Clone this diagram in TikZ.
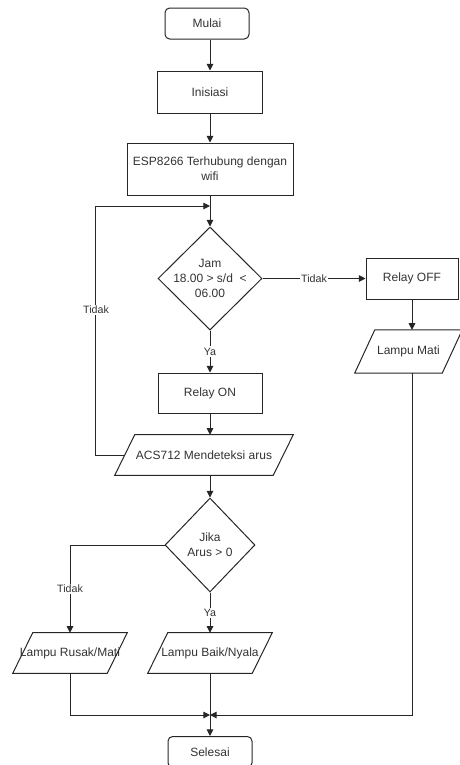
\documentclass[tikz,border=0pt]{standalone}
\usepackage{fontspec}
\setmainfont{Liberation Sans}
\usetikzlibrary{shapes.geometric,arrows.meta}
\tikzset{
  every node/.style={font=\fontsize{9}{11.25}\selectfont, text=black!80},
  base/.style={draw=black!85, line width=0.75pt, inner sep=1pt, align=center},
  term/.style={base, rectangle, rounded corners=3.5pt, minimum width=63pt, minimum height=23.25pt},
  proc/.style={base, rectangle},
  dec/.style={base, diamond, inner sep=0pt},
  io/.style={rectangle, inner sep=0pt, align=center},
  conn/.style={draw=black!85, line width=0.75pt},
  arr/.style={conn, -{Triangle[length=5pt,width=5pt]}},
  elab/.style={font=\fontsize{8}{9}\selectfont, fill=white, inner sep=1pt, text=black!80},
}
\begin{document}
\begin{tikzpicture}[x=0.75pt, y=-0.75pt]
\useasboundingbox (0,0) rectangle (460,765);
% nodes
\node[term] (mulai) at (207,23.5) {Mulai};
\node[proc, minimum width=78.75pt, minimum height=31.5pt] (ini) at (210,92) {Inisiasi};
\node[proc, minimum width=124.5pt, minimum height=39pt] (esp) at (210,169) {ESP8266 Terhubung dengan\\wifi};
\node[dec, minimum width=78pt, minimum height=77.25pt] (d1) at (210,278.5) {};
\node[align=center] (d1t) at (d1) {Jam\\18.00 > s/d\ \ <\\06.00};
\node[proc, minimum width=69pt, minimum height=30.75pt] (roff) at (412,278.5) {Relay OFF};
\node[io, minimum width=65.25pt, minimum height=32pt] (lm) at (408.5,351.5) {\makebox[0pt]{Lampu Mati}};
\node[proc, minimum width=78pt, minimum height=30pt] (ron) at (210,393) {Relay ON};
\node[io, minimum width=118.5pt, minimum height=30pt] (acs) at (204,455) {\makebox[0pt]{ACS712 Mendeteksi arus}};
\node[dec, minimum width=67.5pt, minimum height=70.5pt] (d2) at (210,545) {};
\node[align=center] (d2t) at (d2) {Jika\\Arus > 0};
\node[io, minimum width=70.5pt, minimum height=30pt] (lr) at (70,653) {\makebox[0pt]{Lampu Rusak/Mati}};
\node[io, minimum width=78pt, minimum height=30pt] (lb) at (210,653) {\makebox[0pt]{Lampu Baik/Nyala}};
\node[term] (sel) at (210,752) {Selesai};
% parallelogram outlines
\foreach \n in {lm,acs,lr,lb}{
  \draw[conn] ([xshift=7.5pt]\n.north west) -- ([xshift=7.5pt]\n.north east)
    -- ([xshift=-7.5pt]\n.south east) -- ([xshift=-7.5pt]\n.south west) -- cycle;
}
\coordinate (lp) at (95,206);
\coordinate (j) at (210,715);
% connectors
\draw[arr] (mulai.south -| ini) -- (ini.north);
\draw[arr] (ini) -- (esp);
\draw[arr] (esp) -- (d1);
\draw[arr] (acs.west) -| (lp) -- (esp |- lp);
\node[elab] (lt1) at (96,310) {Tidak};
\draw[arr] (d1) -- node[elab] (lt2) {Tidak} (roff);
\draw[arr] (d1) -- node[elab] (ly1) {Ya} (ron);
\draw[arr] (roff) -- (roff |- lm.north);
\draw[arr] (ron.south) -- (ron.south |- acs.north);
\draw[arr] (d2 |- acs.south) -- (d2.north);
\draw[arr] (d2.west) -| node[elab, pos=0.75] (lt3) {Tidak} (lr.north);
\draw[arr] (d2.south) -- node[elab] (ly2) {Ya} (lb.north);
\draw[arr] (lb.south) -- (sel.north);
\draw[arr] (lr.south) |- (j);
\draw[arr] (roff |- lm.south) |- (j);
\end{tikzpicture}
\end{document}
